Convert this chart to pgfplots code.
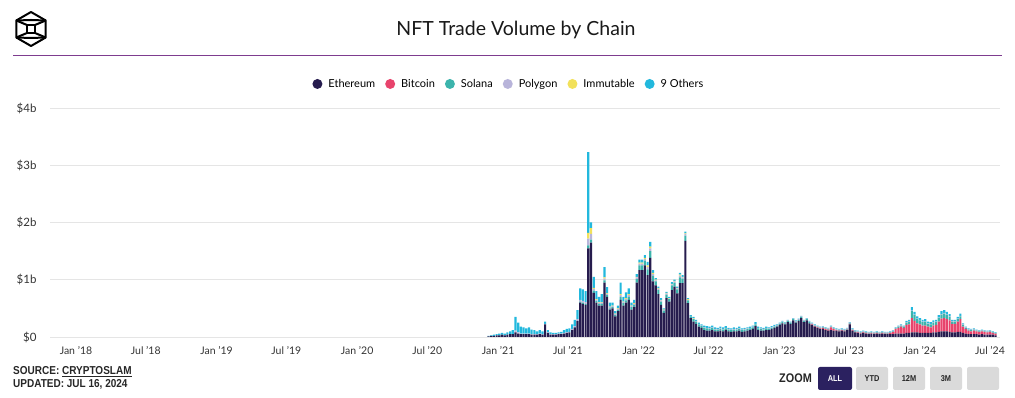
\documentclass[border=0pt]{standalone}
\usepackage{pgfplots}
\usepackage{pgfplotstable}
\pgfplotsset{compat=1.18}
\usepackage{fontspec}
\setmainfont{Lato}
\newfontfamily\condfont[FakeStretch=0.87]{Liberation Sans}
\definecolor{ethc}{HTML}{261C4E}
\definecolor{btcc}{HTML}{E8436C}
\definecolor{solc}{HTML}{3CB4AC}
\definecolor{polyc}{HTML}{B8B4DA}
\definecolor{imxc}{HTML}{F2E15A}
\definecolor{othc}{HTML}{22B8DD}
\definecolor{linec}{HTML}{7E3C8F}
\definecolor{btnc}{HTML}{2B2160}
\definecolor{btngray}{HTML}{DADADA}
\definecolor{txtc}{HTML}{333333}

\pgfplotstableread{
w eth btc sol poly imx oth
153 0.01 0 0 0 0 0.01
154 0.02 0 0 0 0 0.01
155 0.02 0 0 0 0 0.02
156 0.03 0 0 0 0 0.02
157 0.03 0 0 0 0 0.03
158 0.04 0 0 0 0 0.03
159 0.03 0 0 0 0 0.03
160 0.04 0 0 0 0 0.04
161 0.05 0 0 0 0 0.05
162 0.05 0 0 0 0 0.07
163 0.08 0 0 0.03 0 0.24
164 0.06 0 0 0.02 0 0.17
165 0.05 0 0 0.01 0 0.12
166 0.05 0 0 0.01 0 0.11
167 0.05 0 0 0.01 0 0.09
168 0.05 0 0 0.01 0 0.11
169 0.04 0 0 0.01 0 0.08
170 0.04 0 0 0.01 0 0.07
171 0.04 0 0 0.01 0 0.05
172 0.05 0 0 0.01 0 0.06
173 0.04 0 0 0.01 0 0.05
174 0.22 0 0 0.01 0 0.04
175 0.07 0 0 0.01 0 0.04
176 0.04 0 0 0.01 0 0.03
177 0.04 0 0 0.01 0 0.02
178 0.04 0 0 0.01 0 0.02
179 0.05 0 0 0.01 0 0.02
180 0.05 0 0 0.01 0 0.03
181 0.06 0 0 0.01 0 0.05
182 0.07 0 0 0.01 0 0.06
183 0.08 0 0 0.01 0 0.06
184 0.12 0 0 0.02 0 0.08
185 0.17 0 0 0.02 0 0.11
186 0.28 0 0 0.03 0 0.16
187 0.60 0 0.02 0.03 0 0.20
188 0.58 0 0.02 0.03 0 0.20
189 0.56 0 0.02 0.03 0 0.19
190 1.55 0 0.05 0.12 0.10 1.41
191 1.65 0 0.05 0.10 0.10 0.10
192 0.77 0 0.04 0.03 0.02 0.19
193 0.60 0 0.03 0.02 0.01 0.14
194 0.55 0 0.03 0.02 0.01 0.09
195 0.55 0 0.03 0.02 0.01 0.14
196 0.95 0 0.04 0.03 0.02 0.18
197 0.70 0 0.03 0.02 0.01 0.11
198 0.48 0 0.02 0.02 0.01 0.07
199 0.50 0 0.02 0.02 0.01 0.05
200 0.36 0 0.02 0.02 0.01 0.04
201 0.45 0 0.02 0.02 0.01 0.05
202 0.65 0 0.05 0.03 0.02 0.20
203 0.55 0 0.04 0.02 0.01 0.08
204 0.60 0 0.04 0.02 0.02 0.10
205 0.65 0 0.05 0.03 0.02 0.10
206 0.48 0 0.04 0.02 0.01 0.05
207 0.52 0 0.04 0.02 0.01 0.06
208 0.95 0 0.06 0.03 0.01 0.05
209 1.17 0 0.08 0.03 0.02 0.05
210 1.17 0 0.08 0.03 0.02 0.05
211 1.25 0 0.08 0.03 0.02 0.05
212 1.08 0 0.10 0.04 0.03 0.06
213 1.38 0 0.12 0.05 0.03 0.08
214 0.97 0 0.10 0.03 0.02 0.05
215 0.90 0 0.07 0.02 0.01 0.03
216 0.75 0 0.07 0.02 0.01 0.03
217 0.56 0 0.06 0.02 0.01 0.03
218 0.42 0 0.04 0.01 0.01 0.02
219 0.68 0 0.06 0.02 0.01 0.02
220 0.62 0 0.04 0.01 0.01 0.02
221 0.82 0 0.08 0.02 0.01 0.03
222 0.88 0 0.07 0.02 0.01 0.02
223 0.76 0 0.07 0.02 0.01 0.02
224 0.94 0 0.10 0.03 0.02 0.03
225 0.94 0 0.08 0.02 0.01 0.03
226 1.68 0 0.09 0.03 0.01 0.03
227 0.59 0 0.05 0.01 0.01 0.02
228 0.33 0 0.03 0.01 0 0.01
229 0.27 0 0.04 0.01 0.01 0.02
230 0.23 0 0.04 0.01 0 0.02
231 0.18 0 0.04 0.01 0 0.02
232 0.16 0 0.03 0.01 0 0.02
233 0.12 0 0.04 0.01 0 0.03
234 0.11 0 0.04 0.01 0 0.03
235 0.11 0 0.03 0.01 0 0.03
236 0.12 0 0.04 0.01 0 0.03
237 0.10 0 0.03 0.01 0 0.03
238 0.10 0 0.03 0.01 0 0.02
239 0.11 0 0.03 0.01 0 0.03
240 0.10 0 0.03 0.01 0 0.03
241 0.12 0 0.03 0.01 0 0.03
242 0.10 0 0.03 0.01 0 0.02
243 0.09 0 0.03 0.01 0 0.02
244 0.10 0 0.03 0.01 0 0.03
245 0.10 0 0.03 0.01 0 0.02
246 0.11 0 0.03 0.01 0 0.03
247 0.09 0 0.03 0.01 0 0.02
248 0.10 0 0.03 0.01 0 0.02
249 0.11 0 0.03 0.01 0 0.02
250 0.12 0 0.03 0.01 0 0.02
251 0.14 0 0.03 0.01 0 0.02
252 0.19 0 0.03 0.01 0 0.03
253 0.12 0 0.03 0.01 0 0.02
254 0.11 0 0.03 0.01 0 0.02
255 0.11 0 0.02 0.01 0 0.02
256 0.12 0 0.03 0.01 0 0.02
257 0.12 0 0.02 0.01 0 0.02
258 0.14 0 0.02 0.01 0 0.02
259 0.16 0 0.02 0.01 0 0.02
260 0.18 0 0.02 0.01 0 0.01
261 0.21 0 0.02 0.01 0 0.01
262 0.24 0 0.02 0.01 0 0.01
263 0.22 0 0.02 0.01 0 0.01
264 0.26 0 0.02 0.01 0 0.01
265 0.23 0 0.02 0.01 0 0.01
266 0.29 0 0.02 0.01 0 0.01
267 0.25 0 0.02 0.01 0 0.01
268 0.28 0 0.02 0.01 0 0.01
269 0.33 0 0.02 0.01 0 0.01
270 0.26 0 0.02 0.01 0 0.01
271 0.29 0 0.02 0.01 0 0.01
272 0.24 0 0.02 0.01 0 0.01
273 0.21 0.01 0.01 0.01 0 0.01
274 0.18 0.01 0.01 0.01 0 0.01
275 0.16 0.01 0.01 0.01 0 0.01
276 0.14 0.01 0.01 0.01 0 0.01
277 0.14 0.02 0.01 0.01 0 0.01
278 0.12 0.02 0.01 0.01 0 0.01
279 0.11 0.02 0.01 0.01 0 0.01
280 0.12 0.05 0.01 0.01 0 0.01
281 0.11 0.03 0.01 0.01 0 0.01
282 0.11 0.01 0.01 0.01 0 0.01
283 0.10 0.01 0.01 0.01 0 0.01
284 0.11 0.01 0.01 0.01 0 0.01
285 0.10 0.01 0.01 0.01 0 0.01
286 0.12 0.01 0.01 0.01 0 0.01
287 0.22 0.01 0.01 0.01 0 0.01
288 0.11 0.01 0.01 0.01 0 0.01
289 0.08 0.01 0.01 0.01 0 0.01
290 0.07 0.01 0.01 0.01 0 0.01
291 0.06 0.01 0.01 0.01 0 0.01
292 0.07 0.01 0.01 0.01 0 0.01
293 0.06 0.01 0.01 0.01 0 0.01
294 0.05 0.01 0.01 0.01 0 0.01
295 0.06 0.01 0.01 0.01 0 0.01
296 0.05 0.01 0.01 0.01 0 0.01
297 0.06 0.01 0.01 0.01 0 0.01
298 0.05 0.01 0.01 0.01 0 0.01
299 0.06 0.01 0.01 0.01 0 0.01
300 0.05 0.01 0.01 0.01 0 0.01
301 0.05 0.01 0.01 0.01 0 0.01
302 0.05 0.02 0.01 0.01 0 0.01
303 0.05 0.04 0.01 0.01 0 0.01
304 0.06 0.08 0.01 0.01 0 0.01
305 0.06 0.10 0.02 0.01 0 0.01
306 0.06 0.12 0.02 0.01 0 0.01
307 0.06 0.10 0.02 0.01 0 0.01
308 0.07 0.14 0.04 0.01 0 0.02
309 0.07 0.15 0.05 0.01 0 0.02
310 0.08 0.25 0.12 0.01 0 0.06
311 0.08 0.20 0.10 0.01 0 0.05
312 0.08 0.16 0.07 0.01 0 0.04
313 0.07 0.15 0.07 0.01 0 0.03
314 0.07 0.13 0.06 0.01 0 0.03
315 0.07 0.13 0.06 0.01 0 0.04
316 0.07 0.11 0.05 0.01 0 0.03
317 0.07 0.10 0.05 0.01 0 0.03
318 0.08 0.12 0.05 0.01 0 0.03
319 0.08 0.13 0.05 0.01 0 0.03
320 0.09 0.18 0.06 0.01 0 0.04
321 0.10 0.22 0.07 0.01 0 0.05
322 0.10 0.23 0.08 0.01 0 0.05
323 0.10 0.21 0.07 0.01 0 0.05
324 0.09 0.20 0.06 0.01 0 0.04
325 0.08 0.15 0.04 0.01 0 0.02
326 0.08 0.15 0.04 0.01 0 0.02
327 0.09 0.18 0.04 0.01 0 0.03
328 0.09 0.22 0.05 0.01 0 0.04
329 0.07 0.11 0.03 0.01 0 0.02
330 0.06 0.08 0.02 0.01 0 0.01
331 0.05 0.06 0.02 0.01 0 0.01
332 0.05 0.05 0.02 0.01 0 0.01
333 0.05 0.06 0.02 0.01 0 0.01
334 0.05 0.05 0.01 0.01 0 0.01
335 0.04 0.05 0.01 0.01 0 0.01
336 0.05 0.05 0.01 0.01 0 0.01
337 0.04 0.05 0.01 0.01 0 0.01
338 0.04 0.04 0.01 0.01 0 0.01
339 0.04 0.05 0.01 0.01 0 0.01
340 0.04 0.03 0.01 0.01 0 0.01
341 0.03 0.03 0.01 0 0 0.01
}\datatable

\begin{document}
\begin{tikzpicture}
\useasboundingbox (0pt,0pt) rectangle (1015pt,398pt);
% logo
\begin{scope}[shift={(31pt,369pt)}, line width=2pt, line join=round]
  \draw (90:17pt) -- (150:17pt) -- (210:17pt) -- (270:17pt) -- (330:17pt) -- (30:17pt) -- cycle;
  \draw (150:17pt) -- (90:9pt) -- (30:17pt);
  \draw (210:17pt) -- (270:9pt) -- (330:17pt);
  \draw (-4pt,-4pt) rectangle (4pt,4pt);
  \draw (150:17pt) -- (-4pt,4pt);
  \draw (30:17pt) -- (4pt,4pt);
  \draw (210:17pt) -- (-4pt,-4pt);
  \draw (330:17pt) -- (4pt,-4pt);
\end{scope}
% title
\node[font=\fontsize{19.5}{22}\selectfont, text=black!90] at (516pt,368pt) {NFT Trade Volume by Chain};
\draw[linec, line width=1pt] (13pt,342pt) -- (1002pt,342pt);

\begin{axis}[
  at={(50pt,61pt)}, anchor=south west,
  width=950pt, height=229pt, scale only axis,
  ybar stacked, bar width=0.8,
  xmin=-9.64, xmax=342.7, ymin=0, ymax=4,
  axis line style={draw=none},
  tick style={draw=none},
  ytick={0,1,2,3,4},
  yticklabels={\$0,\$1b,\$2b,\$3b,\$4b},
  yticklabel style={font=\fontsize{11.5}{13}\selectfont, text=txtc, xshift=-10pt},
  ymajorgrids, grid style={color=black!10, line width=0.6pt},
  xtick={0,25.86,52.14,78.0,104.29,130.29,156.57,182.43,208.71,234.57,260.86,286.71,313.0,339.0},
  xticklabels={Jan '18,Jul '18,Jan '19,Jul '19,Jan '20,Jul '20,Jan '21,Jul '21,Jan '22,Jul '22,Jan '23,Jul '23,Jan '24,Jul '24},
  xticklabel style={font=\fontsize{10.5}{12}\selectfont, text=txtc, yshift=-6pt},
  legend style={at={(0.483,1.105)}, anchor=center, draw=none, fill=none,
    legend columns=-1, font=\fontsize{11}{13}\selectfont,
    /tikz/every odd column/.append style={column sep=4pt},
    /tikz/every even column/.append style={column sep=8pt}},
  legend image code/.code={\fill[#1] (0pt,0pt) circle (5pt);},
]
\addplot[fill=ethc, draw=none] table[x=w,y=eth]{\datatable};
\addplot[fill=btcc, draw=none] table[x=w,y=btc]{\datatable};
\addplot[fill=solc, draw=none] table[x=w,y=sol]{\datatable};
\addplot[fill=polyc, draw=none] table[x=w,y=poly]{\datatable};
\addplot[fill=imxc, draw=none] table[x=w,y=imx]{\datatable};
\addplot[fill=othc, draw=none] table[x=w,y=oth]{\datatable};
\legend{Ethereum,Bitcoin,Solana,Polygon,Immutable,9 Others}
\draw[black!55, line width=0.8pt] (rel axis cs:0,0) -- (rel axis cs:1,0);
\end{axis}

% source
\node[anchor=west, font=\condfont\bfseries\fontsize{11.5}{13}\selectfont, text=black!85, inner sep=0pt] at (13pt,26pt) {SOURCE: \underline{CRYPTOSLAM}};
\node[anchor=west, font=\condfont\bfseries\fontsize{11.5}{13}\selectfont, text=black!85, inner sep=0pt] at (13pt,14pt) {UPDATED: JUL 16, 2024};
% zoom buttons
\node[anchor=east, font=\condfont\bfseries\fontsize{12.5}{14}\selectfont, text=black!85, inner sep=0pt] at (812pt,19.5pt) {ZOOM};
\fill[btnc, rounded corners=2pt] (818pt,8pt) rectangle (852pt,31pt);
\fill[btngray, rounded corners=2pt] (856pt,8pt) rectangle (888pt,31pt);
\fill[btngray, rounded corners=2pt] (893pt,8pt) rectangle (925pt,31pt);
\fill[btngray, rounded corners=2pt] (930pt,8pt) rectangle (962pt,31pt);
\fill[btngray, rounded corners=2pt] (967pt,8pt) rectangle (999pt,31pt);
\node[font=\condfont\bfseries\fontsize{8.5}{9}\selectfont, text=white] at (835pt,19.5pt) {ALL};
\node[font=\condfont\bfseries\fontsize{8.5}{9}\selectfont, text=black!85] at (872pt,19.5pt) {YTD};
\node[font=\condfont\bfseries\fontsize{8.5}{9}\selectfont, text=black!85] at (909pt,19.5pt) {12M};
\node[font=\condfont\bfseries\fontsize{8.5}{9}\selectfont, text=black!85] at (946pt,19.5pt) {3M};
\end{tikzpicture}
\end{document}
